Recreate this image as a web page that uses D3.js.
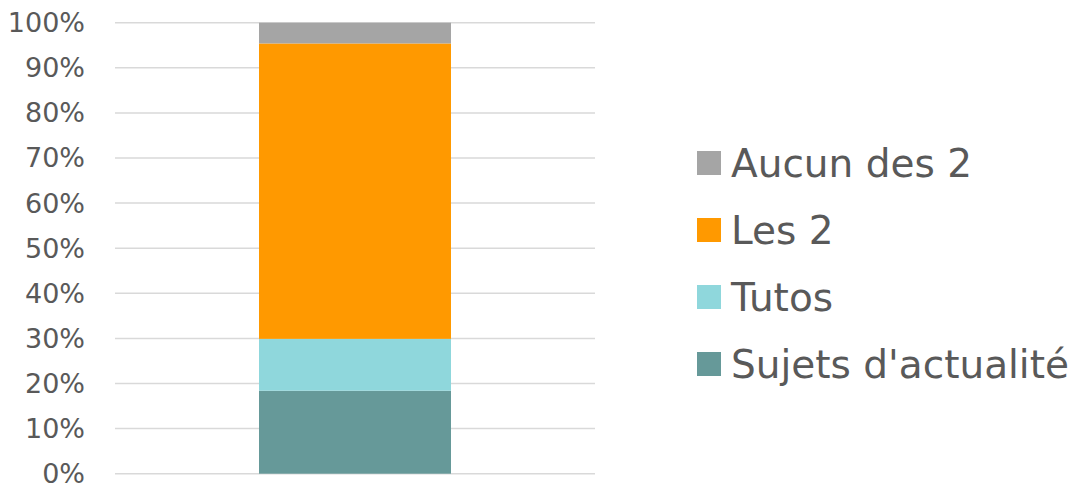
<!DOCTYPE html>
<html>
<head>
<meta charset="utf-8">
<script src="https://cdn.jsdelivr.net/npm/d3@7/dist/d3.min.js"></script>
<style>
  html, body { margin: 0; padding: 0; background: #fff; }
  svg { display: block; font-family: "DejaVu Sans", "Noto Sans", sans-serif; }
</style>
</head>
<body>
<svg id="chart" width="1081" height="486"></svg>
<script>
  // single stacked column, shares in %
  var categories = ['Total'];
  var seriesNames = ["Sujets d'actualité", 'Tutos', 'Les 2', 'Aucun des 2'];
  var seriesValues = [18.4, 11.5, 65.5, 4.6];
  var seriesColors = ['#669999', '#8fd7dc', '#ff9900', '#a5a5a5'];
  var yTicks = [0, 10, 20, 30, 40, 50, 60, 70, 80, 90, 100];

  var svg = d3.select('#chart');
  var plot = { left: 115, right: 595, top: 22.7, bottom: 473.7 };

  var x = d3.scaleBand().domain(categories).range([plot.left, plot.right]).paddingInner(0).paddingOuter(0.75);
  var y = d3.scaleLinear().domain([0, 100]).range([plot.bottom, plot.top]);

  // gridlines
  svg.append('g').selectAll('line').data(yTicks).enter().append('line')
    .attr('x1', plot.left).attr('x2', plot.right)
    .attr('y1', function(d){ return y(d); }).attr('y2', function(d){ return y(d); })
    .attr('stroke', '#d9d9d9').attr('stroke-width', 1.5);

  // y axis labels
  var yAxis = d3.axisLeft(y).tickValues(yTicks).tickSize(0).tickPadding(0)
    .tickFormat(function(d){ return d + '%'; });
  var ya = svg.append('g').attr('transform', 'translate(85,0)').call(yAxis);
  ya.select('.domain').remove();
  ya.selectAll('text').attr('fill', '#595959').style('font-size', '27px')
    .style('font-family', '"DejaVu Sans", sans-serif').attr('dy', '0.33em');

  // stack
  var row = { cat: categories[0] };
  seriesNames.forEach(function(n, i){ row[n] = seriesValues[i]; });
  var stacked = d3.stack().keys(seriesNames)([row]);

  svg.append('g').selectAll('rect').data(stacked).enter().append('rect')
    .attr('x', x(categories[0]))
    .attr('width', x.bandwidth())
    .attr('y', function(s){ return y(s[0][1]); })
    .attr('height', function(s){ return y(s[0][0]) - y(s[0][1]); })
    .attr('fill', function(s, i){ return seriesColors[i]; });

  // legend, reversed order (top = last series)
  var legendY = d3.scalePoint().domain(seriesNames.slice().reverse()).range([163, 364]);
  var lg = svg.append('g').selectAll('g').data(seriesNames).enter().append('g')
    .attr('transform', function(d){ return 'translate(697,' + legendY(d) + ')'; });
  lg.append('rect').attr('x', 0).attr('y', -12).attr('width', 24).attr('height', 24)
    .attr('fill', function(d, i){ return seriesColors[i]; });
  lg.append('text').attr('x', 34).attr('y', 0).attr('dy', '0.36em')
    .attr('fill', '#595959').style('font-size', '39px').text(function(d){ return d; });
</script>
</body>
</html>
